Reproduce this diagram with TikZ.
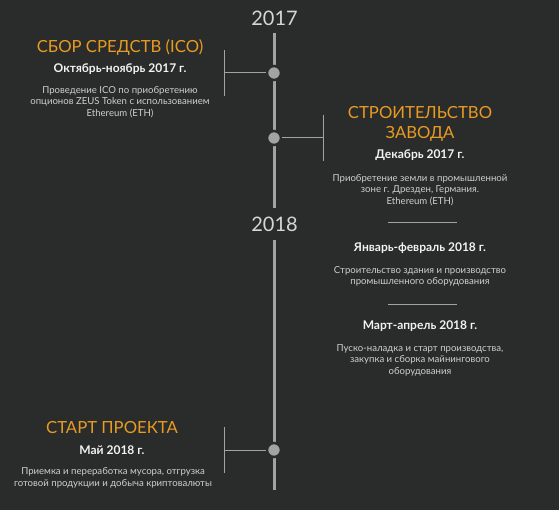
\documentclass[tikz,border=0pt]{standalone}
\usepackage{fontspec}
\setmainfont{Lato}
\definecolor{bgc}{HTML}{2A2B2B}
\definecolor{linec}{HTML}{A3A3A3}
\definecolor{orangec}{HTML}{E89B22}
\definecolor{datec}{HTML}{F2F2F2}
\definecolor{descc}{HTML}{CFCFCF}
\definecolor{yearc}{HTML}{D6D6D6}
\tikzset{
  axis/.style={linec, line width=3pt},
  branch/.style={linec, line width=1pt},
  dot/.style={circle, fill=linec, draw=bgc, line width=2.5pt, minimum size=14pt, inner sep=0pt},
  year/.style={text=yearc, font=\fontsize{20}{22}\selectfont, inner sep=0pt},
  title/.style={text=orangec, font=\fontsize{16.7}{20}\selectfont, align=center, inner sep=0pt},
  datel/.style={text=datec, font=\fontsize{12}{14}\selectfont\bfseries, inner sep=0pt},
  desc/.style={text=descc, font=\fontsize{9.6}{11.4}\selectfont, align=center, inner sep=0pt},
  sep/.style={linec, line width=0.8pt}
}
\begin{document}
\begin{tikzpicture}[x=1pt,y=-1pt]
\fill[bgc] (0,0) rectangle (559,510);
\useasboundingbox (0,0) rectangle (559,510);
% years
\node[year] (y17) at (274.5,18) {2017};
\node[year] (y18) at (274.5,224.5) {2018};
% axis coordinates
\coordinate (a1) at (274,33);
\coordinate (a2) at (274,208);
\coordinate (a3) at (274,240);
\coordinate (a4) at (274,490);
\draw[axis] (a1) -- (a2);
\draw[axis] (a3) -- (a4);
% dots
\node[dot] (d1) at (274,73) {};
\node[dot] (d2) at (274,138) {};
\node[dot] (d3) at (274,450) {};
% branches
\coordinate (t1) at (224.5,73);
\coordinate (t1a) at (224.5,50);
\coordinate (t1b) at (224.5,96);
\draw[branch] (d1.west) -- (t1);
\draw[branch] (t1a) -- (t1b);
\coordinate (t2) at (323.5,138);
\coordinate (t2a) at (323.5,115);
\coordinate (t2b) at (323.5,161);
\draw[branch] (d2.east) -- (t2);
\draw[branch] (t2a) -- (t2b);
\coordinate (t3) at (224.5,450);
\coordinate (t3a) at (224.5,427);
\coordinate (t3b) at (224.5,473);
\draw[branch] (d3.west) -- (t3);
\draw[branch] (t3a) -- (t3b);
% block 1
\node[title] (ti1) at (120,47) {СБОР СРЕДСТВ (ICO)};
\node[datel] (da1) at (120,69) {Октябрь-ноябрь 2017 г.};
\node[desc] (de1) at (120,102) {Проведение ICO по приобретению\\опционов ZEUS Token с использованием\\Ethereum (ETH)};
% block 2
\node[title] (ti2) at (420,124) {СТРОИТЕЛЬСТВО\\ЗАВОДА};
\node[datel] (da2) at (420,155) {Декабрь 2017 г.};
\node[desc] (de2) at (420,190) {Приобретение земли в промышленной\\зоне г. Дрезден, Германия.\\Ethereum (ETH)};
\coordinate (s1a) at (388,222);
\coordinate (s1b) at (457,222);
\draw[sep] (s1a) -- (s1b);
\node[datel] (da3) at (420,248) {Январь-февраль 2018 г.};
\node[desc] (de3) at (420,276.5) {Строительство здания и производство\\промышленного оборудования};
\coordinate (s2a) at (388,304);
\coordinate (s2b) at (457,304);
\draw[sep] (s2a) -- (s2b);
\node[datel] (da4) at (420,326) {Март-апрель 2018 г.};
\node[desc] (de4) at (420,360) {Пуско-наладка и старт производства,\\закупка и сборка майнингового\\оборудования};
% block 3
\node[title] (ti3) at (112,428) {СТАРТ ПРОЕКТА};
\node[datel] (da5) at (112,450) {Май 2018 г.};
\node[desc] (de5) at (113,478) {Приемка и переработка мусора, отгрузка\\готовой продукции и добыча криптовалюты};
\end{tikzpicture}
\end{document}
